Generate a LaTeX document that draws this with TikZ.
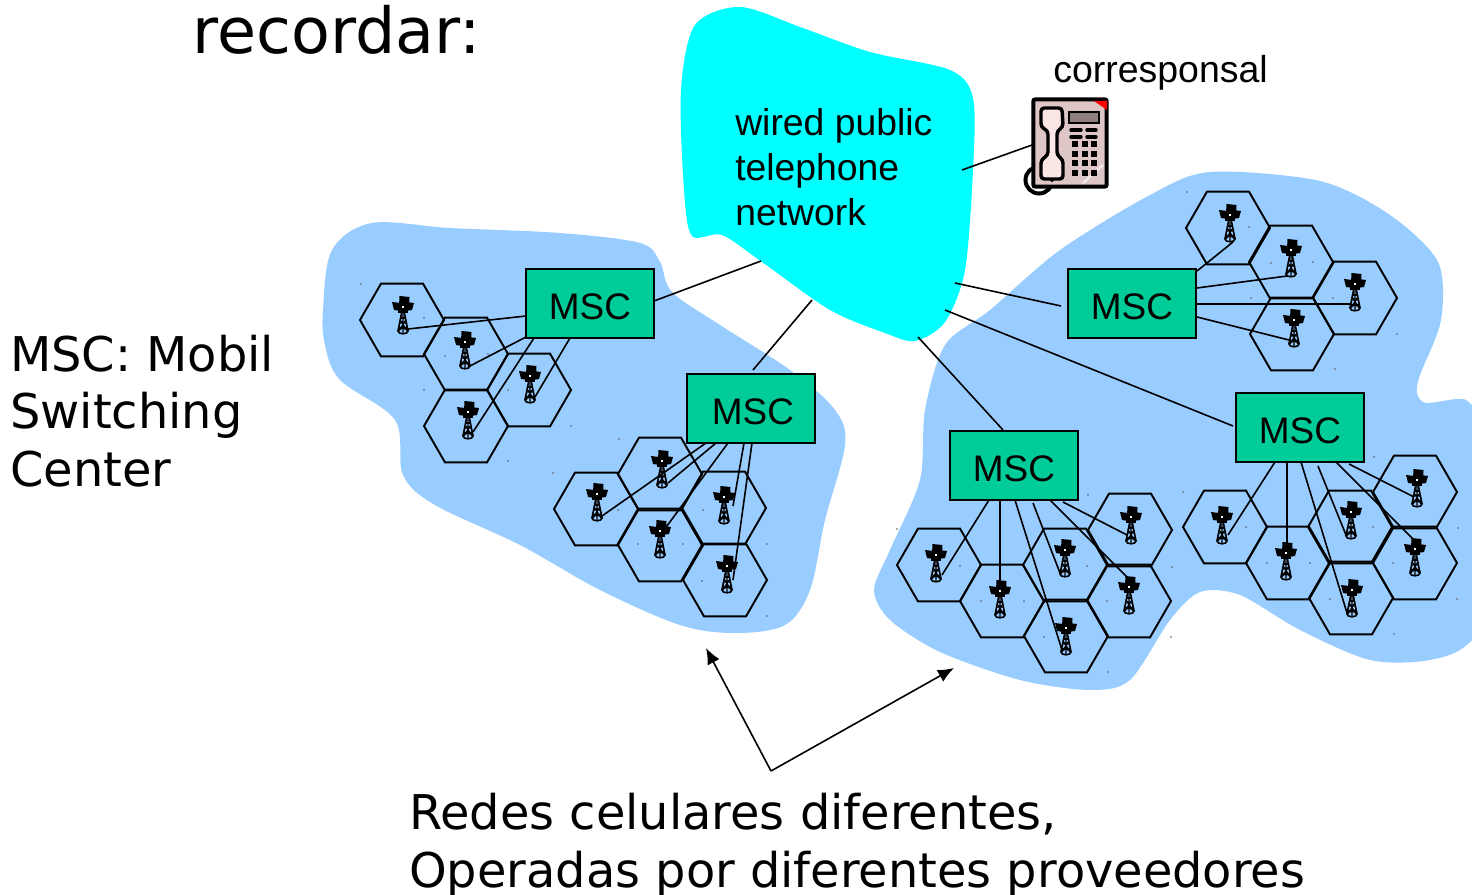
\documentclass[tikz,border=0pt]{standalone}
\usepackage{fontspec}
\setmainfont{Liberation Sans}
\newfontfamily\dvfont{DejaVu Sans}
\usetikzlibrary{shapes.geometric,arrows.meta,calc}
\definecolor{netblue}{HTML}{99CCFF}
\definecolor{cloudcyan}{HTML}{00FFFF}
\definecolor{mscgreen}{HTML}{00CC99}
\definecolor{phonebody}{HTML}{DEC6C6}
\definecolor{phonehand}{HTML}{FBE6E6}
\definecolor{phonescr}{HTML}{8F7F7F}
\tikzset{
  hexcell/.style={regular polygon,regular polygon sides=6,draw=black,line width=1.45pt,minimum size=63pt,inner sep=0pt,outer sep=0pt},
  mscbox/.style={draw=black,fill=mscgreen,line width=1.3pt,minimum width=96pt,minimum height=52pt,inner sep=0pt,text height=24pt,text depth=0pt,font=\fontsize{27.7pt}{30pt}\selectfont},
  wire/.style={draw=black,line width=1.2pt},
  bigtext/.style={inner sep=0pt,anchor=base west,align=left,font=\dvfont\fontsize{35.9pt}{43pt}\selectfont},
  netlabel/.style={inner sep=0pt,anchor=base west,align=left,font=\fontsize{28pt}{33.75pt}\selectfont},
  tower/.pic={
    \draw[line width=1.2pt] (-5,-3)--(-1,-23)--(1,-23)--(5,-3);
    \draw[line width=.85pt] (-3.2,-11)--(3.2,-11) (-4,-6.5)--(4,-6.5) (-4,-3)--(2,-13) (4,-3)--(-2,-13) (0,-23)--(0,-1);
    \draw[line width=1.2pt] (-2.2,-16)--(2.2,-16) (0,-3) ellipse [x radius=5,y radius=2.8];
    \fill (-3.5,-38)--(6.5,-37)--(6,-27)--(-4,-28)--cycle;
    \fill (-11,-32)--(-3,-31)--(-2,-23)--(-9,-24)--cycle;
    \fill (11,-31)--(3,-32)--(2,-23)--(9,-24)--cycle;
    \fill (-5,-31) rectangle (5,-21);
    \fill[white] (-1,-28) rectangle (1,-26);
  }
}
% name, hex centre, tower foot, wire start, wire end
\newcommand{\cellunit}[5]{%
  \node[hexcell] (#1) at (#2) {};
  \path (#3) pic {tower};
  \coordinate (#1s) at (#4);
  \coordinate (#1e) at (#5);
  \draw[wire] (#1s) -- (#1e);
}
\begin{document}
\begin{tikzpicture}[x=0.75pt,y=-0.75pt]
\useasboundingbox (0,0) rectangle (1472,895);
\clip (0,0) rectangle (1472,895);
% network areas
\fill[netblue] plot[smooth cycle,tension=.55] coordinates {(323,310)(332,250)(372,223)(450,228)(560,233)(640,243)(660,262)(672,292)(720,325)(790,370)(835,410)(845,445)(825,520)(810,590)(785,625)(735,633)(680,625)(600,590)(520,545)(435,505)(403,475)(395,420)(340,380)(325,345)};
\fill[netblue] plot[smooth cycle,tension=.5] coordinates {(874,590)(890,550)(920,480)(925,410)(945,345)(990,310)(1060,250)(1150,195)(1210,172)(1320,181)(1390,215)(1438,262)(1441,320)(1420,375)(1417,393)(1426,403)(1458,399)(1472,405)(1510,450)(1520,560)(1472,640)(1430,660)(1370,660)(1300,630)(1240,595)(1200,592)(1170,620)(1130,680)(1090,690)(1020,680)(940,652)(890,620)};
% cloud
\fill[cloudcyan] plot[smooth cycle,tension=.5] coordinates {(681,90)(695,25)(740,7)(800,27)(870,52)(950,70)(973,98)(973,170)(965,270)(945,322)(915,341)(885,333)(830,310)(762,262)(722,235)(692,236)(684,190)};
% specks
\foreach \sx/\sy in {361/284,424/318,445/356,488/354,508/390,571/426,424/390,508/461,619/439,553/473,618/510,703/510,638/544,683/544,767/544,702/581,767/616,897/529,960/566,981/601,1024/601,1087/566,1107/601,1044/637,1108/672,1172/567,1171/637,1088/495,1183/492,1374/457,1246/527,1373/527,1458/528,1267/563,1310/563,1393/563,1330/599,1457/599,1394/634,1187/192,1249/227,1271/263,1313/262,1251/298,1333/298,1397/334,1335/369}{
  \fill[black!65] (\sx,\sy) circle [radius=.9];
}
% cells of network 1
\cellunit{pa}{402,320}{403,334}{526,316}{408,329}
\cellunit{pb}{466,354}{465,369}{526,337}{468,367}
\cellunit{pc}{529,390}{530,403}{570,338}{535,397}
\cellunit{pd}{466,426}{468,439}{534,338}{473,432}
% network 2
\cellunit{qa}{596,509}{597,521}{706,443}{602,516}
\cellunit{qb}{660,474}{662,488}{716,443}{668,483}
\cellunit{qc}{724,508}{724,524}{744,443}{733,506}
\cellunit{qd}{660,545}{660,558}{728,443}{664,530}
\cellunit{qe}{725,580}{727,593}{752,443}{733,580}
% network 3
\cellunit{ra}{939,565}{936,582}{989,500}{942,575}
\cellunit{rb}{1002,601}{1000,618}{1000,500}{1000,583}
\cellunit{rc}{1065,565}{1065,577}{1033,503}{1060,573}
\cellunit{rd}{1129,601}{1129,614}{1050,500}{1128,578}
\cellunit{re}{1066,636}{1066,655}{1015,500}{1062,650}
\cellunit{rf}{1130,530}{1131,544}{1063,502}{1127,535}
% network 4
\cellunit{sa}{1225,527}{1222,544}{1275,462}{1228,535}
\cellunit{sb}{1288,563}{1286,580}{1287,462}{1287,545}
\cellunit{sc}{1350,527}{1351,539}{1318,466}{1346,535}
\cellunit{sd}{1351,598}{1352,617}{1301,462}{1347,613}
\cellunit{se}{1415,563}{1415,576}{1336,462}{1414,540}
\cellunit{sf}{1415,492}{1417,507}{1349,464}{1414,497}
% network 5
\cellunit{ta}{1228,228}{1230,242}{1197,271}{1233,242}
\cellunit{tb}{1291,262}{1291,277}{1197,288}{1287,276}
\cellunit{tc}{1355,298}{1355,311}{1197,304}{1350,304}
\cellunit{td}{1292,334}{1294,347}{1197,317}{1289,340}
% switching centres
\node[mscbox] (m1) at (590,303.5) {MSC};
\node[mscbox] (m2) at (751,408.5) {\hspace*{3pt}MSC};
\node[mscbox] (m3) at (1132,303.5) {MSC};
\node[mscbox] (m4) at (1014,465.5) {MSC};
\node[mscbox] (m5) at (1300,427.5) {MSC};
% links to the public network
\coordinate (c1) at (761,261);
\coordinate (c2) at (812,300);
\coordinate (c3) at (955,283);
\coordinate (c3b) at (1061,306);
\coordinate (c4) at (945,310);
\coordinate (c4b) at (1233,426);
\coordinate (c5) at (918,337);
\coordinate (c5b) at (1003,430);
\coordinate (m1t) at (654,301);
\coordinate (m2t) at (753,370);
\draw[wire] (c1) -- (m1t);
\draw[wire] (c2) -- (m2t);
\draw[wire] (c3) -- (c3b);
\draw[wire] (c4) -- (c4b);
\draw[wire] (c5) -- (c5b);
% telephone
\coordinate (c6) at (962,170);
\coordinate (phonein) at (1032,145);
\draw[wire] (c6) -- (phonein);
\draw[black,line width=3pt] (1039,180) circle [radius=13.5];
\node[draw=black,fill=phonebody,line width=3pt,rounded corners=1.5pt,minimum width=55pt,minimum height=65.5pt,inner sep=0pt,outer sep=0pt] (phone) at (1070,143) {};
\draw[black,line width=2.4pt] (1048,177) -- (1052,180) -- (1054,178);
\fill[red] (1094,101) -- (1107,101) -- (1107,110) -- cycle;
\draw[white!70!phonebody,line width=1.5pt] (1083,183) -- (1103,165);
\draw[black,line width=2.6pt,fill=phonehand,rounded corners=2.5pt] (1041,108) -- (1062,108) -- (1063,127) -- (1057,131) -- (1057,155) -- (1063,160) -- (1063,179) -- (1041,179) -- (1041,160) -- (1048,155) -- (1048,131) -- (1041,127) -- cycle;
\draw[black,line width=1.6pt,fill=phonescr] (1069,112) rectangle (1099,123);
\foreach \ky in {130,137}{
  \draw[black,line width=2.6pt,line cap=round] (1071,\ky) -- (1081,\ky) (1087,\ky) -- (1096,\ky);
}
\foreach \kx in {1075,1085,1094}{
  \foreach \ky in {144,154,163,173}{
    \fill[black] (\kx-3.4,\ky-3.4) rectangle (\kx+3.4,\ky+3.4);
  }
}
% arrows
\coordinate (ap) at (771,771);
\coordinate (ar1) at (706,648);
\coordinate (ar2) at (954,668);
\draw[wire,-{Latex[length=12pt,width=10pt]}] (ap) -- (ar1);
\draw[wire,-{Latex[length=12pt,width=10pt]}] (ap) -- (ar2);
% texts
\node[inner sep=0pt,anchor=base west,font=\dvfont\fontsize{47.6pt}{50pt}\selectfont] (t1) at (192.5,54) {recordar:};
\node[bigtext] (t2) at (10,486) {MSC: Mobil\\Switching\\Center};
\node[bigtext] (t3) at (409,887) {Redes celulares diferentes,\\Operadas por diferentes proveedores};
\node[netlabel] (t4) at (735,226) {wired public\\telephone\\network};
\node[inner sep=0pt,anchor=base west,font=\fontsize{28.1pt}{33pt}\selectfont] (t5) at (1053,83) {corresponsal};
\end{tikzpicture}
\end{document}
